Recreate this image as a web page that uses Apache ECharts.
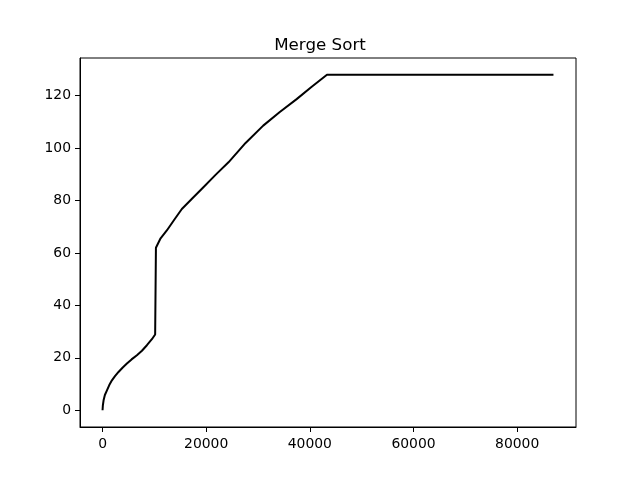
<!DOCTYPE html>
<html>
<head>
<meta charset="utf-8">
<script src="https://cdn.jsdelivr.net/npm/echarts@6/dist/echarts.min.js"></script>
<style>html,body{margin:0;padding:0;background:#fff}#c{width:640px;height:480px}</style>
</head>
<body>
<div id="c"></div>
<script>
// Values
const xValues = [0, 60, 200, 450, 850, 1300, 1810, 2400, 3080, 3850, 4700, 5600, 6630, 7600, 8560, 9520, 10150, 10290, 10300, 11200, 12400, 13800, 15300, 17300, 19460, 21800, 24300, 27600, 31000, 34200, 37450, 40300, 43300, 87000];
const yValues = [0, 1.8, 3.8, 5.8, 7.6, 9.6, 11.4, 13, 14.6, 16.2, 17.8, 19.4, 21, 22.7, 24.8, 27.1, 28.9, 29.3, 62, 65.6, 68.6, 72.6, 76.8, 80.8, 85.1, 89.8, 94.6, 102, 108.6, 113.8, 118.7, 123.3, 128, 128];
const xTicks = [0, 20000, 40000, 60000, 80000];
const yTicks = [0, 20, 40, 60, 80, 100, 120];
const titleText = 'Merge Sort';

const points = xValues.map((x, i) => [x, yValues[i]]);
const font = 'DejaVu Sans';
const chart = echarts.init(document.getElementById('c'), null, {renderer: 'canvas'});
chart.setOption({
  animation: false,
  backgroundColor: '#ffffff',
  title: {
    text: titleText,
    left: 'center',
    top: 32,
    textStyle: {fontFamily: font, fontSize: 16.7, fontWeight: 'normal', color: '#000'}
  },
  grid: {
    left: 80, right: 64, top: 58, bottom: 53,
    show: true, borderColor: '#000', borderWidth: 1, backgroundColor: 'transparent'
  },
  xAxis: {
    type: 'value',
    min: -4350, max: 91350,
    splitLine: {show: false},
    axisLine: {show: true, onZero: false, lineStyle: {color: '#000', width: 1}},
    axisTick: {show: true, inside: false, length: 5, customValues: xTicks, lineStyle: {color: '#000'}},
    axisLabel: {customValues: xTicks, margin: 10, color: '#000', fontFamily: font, fontSize: 13.9, formatter: v => String(v)}
  },
  yAxis: {
    type: 'value',
    min: -6.4, max: 134.4,
    splitLine: {show: false},
    axisLine: {show: true, onZero: false, lineStyle: {color: '#000', width: 1}},
    axisTick: {show: true, inside: false, length: 5, customValues: yTicks, lineStyle: {color: '#000'}},
    axisLabel: {customValues: yTicks, margin: 9, color: '#000', fontFamily: font, fontSize: 13.9, formatter: v => String(v)}
  },
  series: [{
    type: 'line',
    data: points,
    showSymbol: false,
    symbol: 'none',
    lineStyle: {color: '#000', width: 2},
    clip: true
  }]
});
</script>
</body>
</html>
